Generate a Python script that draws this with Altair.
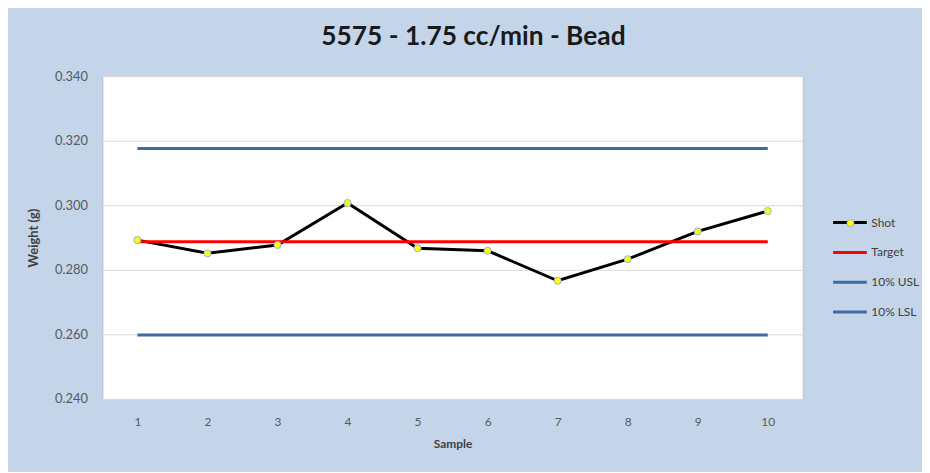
import altair as alt
import pandas as pd

samples = [1, 2, 3, 4, 5, 6, 7, 8, 9, 10]
shot = [0.2892, 0.2851, 0.2877, 0.3007, 0.2867, 0.2859, 0.2766, 0.2833, 0.2919, 0.2982]
target = 0.2887
usl = 0.3176
lsl = 0.2598
series_names = ["Shot", "Target", "10% USL", "10% LSL"]
series_colors = ["#000000", "#ff0000", "#3f6aa2", "#3f6aa2"]
y_ticks = [0.24, 0.26, 0.28, 0.30, 0.32, 0.34]

rows = []
for s, v in zip(samples, shot):
    rows.append({"Sample": s, "Weight": v, "series": "Shot"})
for name, val in [("Target", target), ("10% USL", usl), ("10% LSL", lsl)]:
    for s in samples:
        rows.append({"Sample": s, "Weight": val, "series": name})
df = pd.DataFrame(rows)
df_shot = df[df["series"] == "Shot"]

font = "Lato"

x = alt.X("Sample:O", title="Sample",
          axis=alt.Axis(labelAngle=0, tickSize=0, labelPadding=18, domain=False,
                        titlePadding=11, titleFontWeight="bold", titleFontSize=12,
                        labelFontSize=12, labelColor="#595959", titleColor="#404040",
                        labelFont=font, titleFont=font))
y = alt.Y("Weight:Q", title="Weight (g)",
          scale=alt.Scale(domain=[0.24, 0.34], nice=False, zero=False),
          axis=alt.Axis(values=y_ticks, format=".3f", tickSize=0, labelPadding=15,
                        domain=False, grid=True, gridColor="#d9d9d9",
                        titlePadding=14, titleFontWeight="bold", titleFontSize=13,
                        labelFontSize=13, labelColor="#595959", titleColor="#404040",
                        labelFont=font, titleFont=font))

lines = alt.Chart(df).mark_line(strokeWidth=3).encode(
    x=x, y=y,
    color=alt.Color("series:N",
                    scale=alt.Scale(domain=series_names, range=series_colors),
                    legend=alt.Legend(title=None, orient="none", legendX=734, legendY=129,
                                      symbolType="stroke", symbolSize=1150,
                                      symbolStrokeWidth=3, rowPadding=5,
                                      labelFontSize=12, labelColor="#404040",
                                      labelFont=font, labelOffset=3)),
    order=alt.Order("series:N"),
    detail="series:N",
)

points = alt.Chart(df_shot).mark_point(filled=True, size=50, strokeWidth=1, opacity=1).encode(
    x=x, y=y,
    fill=alt.Fill("series:N", scale=alt.Scale(domain=["Shot"], range=["#ffff00"]),
                  legend=alt.Legend(title=None, orient="none", legendX=747, legendY=142,
                                    symbolType="circle", symbolSize=50,
                                    symbolStrokeColor="#8fb0d8", symbolStrokeWidth=1,
                                    labelExpr="''", labelFontSize=12)),
    stroke=alt.value("#8fb0d8"),
)

chart = alt.layer(lines, points).properties(
    width=705, height=325,
    title=alt.TitleParams("5575 - 1.75 cc/min - Bead", fontSize=26.5, font=font,
                          fontWeight="bold", color="#1a1a1a", offset=20, dx=21),
    autosize=alt.AutoSizeParams(type="none"),
    padding={"left": 95, "top": 67, "right": 120, "bottom": 72},
    background="#c4d5ea",
).configure_view(stroke="#bfbfbf", fill="white", strokeWidth=1)

chart.save("out.html", embed_options={"renderer": "svg", "actions": False})
